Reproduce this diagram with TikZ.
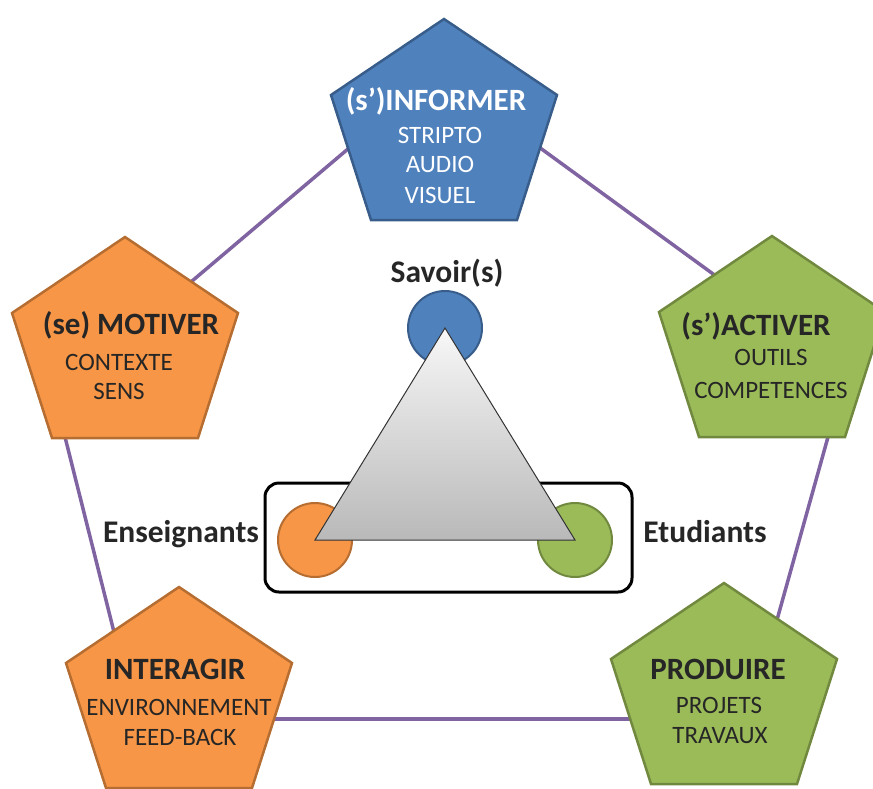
\documentclass[tikz,border=0pt]{standalone}
\usepackage{fontspec}
\setmainfont{Carlito}
\definecolor{blueF}{HTML}{4F81BD}
\definecolor{blueD}{HTML}{385D8A}
\definecolor{orangeF}{HTML}{F79646}
\definecolor{orangeD}{HTML}{B66D31}
\definecolor{greenF}{HTML}{9BBB59}
\definecolor{greenD}{HTML}{71893F}
\definecolor{linkpurple}{HTML}{8064A2}
\definecolor{txtdark}{HTML}{262626}
\newcommand\drawpent[4]{%
  \filldraw[pent,fill=#3,draw=#4,shift={(#1,#2)}]
    (0,-112) -- (113,-36) -- (73,89) -- (-73,89) -- (-113,-36) -- cycle;}
\begin{document}
\begin{tikzpicture}[x=1pt,y=-1pt,
  pent/.style={line width=2.5pt,line join=miter},
  link/.style={draw=linkpurple,line width=3.5pt},
  ttl/.style={font=\fontsize{31}{32}\selectfont\bfseries,anchor=base,inner sep=0pt},
  sub/.style={font=\fontsize{25}{26}\selectfont,anchor=base,inner sep=0pt},
  dot/.style={circle,minimum size=74pt,inner sep=0pt,line width=2pt},
  lbl/.style={font=\fontsize{31.5}{32}\selectfont\bfseries,anchor=base,inner sep=0pt,text=txtdark}]
\useasboundingbox (0,0) rectangle (873,788);
\clip (0,0) rectangle (873,788);
% connector end points
\coordinate (l1a) at (185,287); \coordinate (l1b) at (355,143);
\coordinate (l2a) at (532,142); \coordinate (l2b) at (720,279);
\coordinate (l3a) at (65,437);  \coordinate (l3b) at (116,640);
\coordinate (l4a) at (270,719); \coordinate (l4b) at (633,719);
\coordinate (l5a) at (828,437); \coordinate (l5b) at (775,627);
\draw[link] (l1a) -- (l1b);
\draw[link] (l2a) -- (l2b);
\draw[link] (l3a) -- (l3b);
\draw[link] (l4a) -- (l4b);
\draw[link] (l5a) -- (l5b);
% pentagons
\drawpent{444}{131}{blueF}{blueD}
\drawpent{125}{349}{orangeF}{orangeD}
\drawpent{772}{348}{greenF}{greenD}
\drawpent{179}{699}{orangeF}{orangeD}
\drawpent{724}{695}{greenF}{greenD}
% texts
\node[ttl,text=white] (inf) at (436,110) {(s’)INFORMER};
\node[sub,text=white] (inf1) at (440,143) {STRIPTO};
\node[sub,text=white] (inf2) at (440,172) {AUDIO};
\node[sub,text=white] (inf3) at (440,203) {VISUEL};
\node[ttl,text=txtdark] (mot) at (131,334) {(se) MOTIVER};
\node[sub,text=txtdark] (mot1) at (119,370) {CONTEXTE};
\node[sub,text=txtdark] (mot2) at (119,399) {SENS};
\node[ttl,text=txtdark] (act) at (756,335) {(s’)ACTIVER};
\node[sub,text=txtdark] (act1) at (771,365) {OUTILS};
\node[sub,text=txtdark] (act2) at (771,398) {COMPETENCES};
\node[ttl,text=txtdark] (int) at (175,679) {INTERAGIR};
\node[sub,text=txtdark] (int1) at (179,715) {ENVIRONNEMENT};
\node[sub,text=txtdark] (int2) at (180,745) {FEED-BACK};
\node[ttl,text=txtdark] (pro) at (718,679) {PRODUIRE};
\node[sub,text=txtdark] (pro1) at (719,713) {PROJETS};
\node[sub,text=txtdark] (pro2) at (720,743) {TRAVAUX};
% central part
\draw[line width=3pt,rounded corners=14pt] (265,483) rectangle (632,592);
\node[dot,fill=blueF,draw=blueD] (sav) at (445,328) {};
\node[dot,fill=orangeF,draw=orangeD] (ens) at (315,540) {};
\node[dot,fill=greenF,draw=greenD] (etu) at (575,540) {};
\path[draw=black!80,line width=1pt,line join=miter,top color=gray!6,bottom color=gray!55]
  (sav.center) -- (ens.center) -- (etu.center) -- cycle;
\node[lbl] (savl) at (447,282) {Savoir(s)};
\node[lbl] (ensl) at (181,542) {Enseignants};
\node[lbl] (etul) at (705,542) {Etudiants};
\end{tikzpicture}
\end{document}
